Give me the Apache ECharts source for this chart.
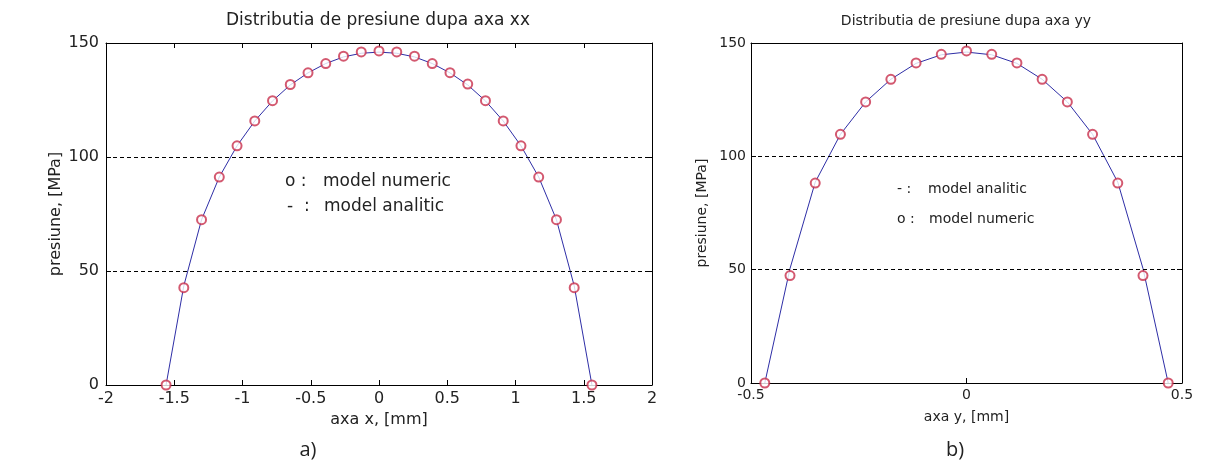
<!DOCTYPE html>
<html>
<head>
<meta charset="utf-8">
<script src="https://cdn.jsdelivr.net/npm/echarts@6/dist/echarts.min.js"></script>
<style>
  html, body { margin: 0; padding: 0; background: #fff; }
  #chart { width: 1210px; height: 464px; }
</style>
</head>
<body>
<div id="chart"></div>
<script>
// axa xx (a)
const xPosA = [-1.56, -1.43, -1.30, -1.17, -1.04, -0.91, -0.78, -0.65, -0.52, -0.39, -0.26, -0.13, 0,
               0.13, 0.26, 0.39, 0.52, 0.65, 0.78, 0.91, 1.04, 1.17, 1.30, 1.43, 1.56];
const numericA = [0, 42.7, 72.5, 91.2, 104.9, 115.8, 124.7, 131.8, 136.9, 141.0, 144.2, 146.1, 146.5,
                  146.1, 144.2, 141.0, 137.0, 132.0, 124.7, 115.8, 104.9, 91.2, 72.5, 42.7, 0];
const analyticA = [0, 43.5, 72.5, 91.2, 104.9, 115.8, 124.6, 131.6, 136.9, 141.0, 143.9, 145.5, 146.0,
                   145.5, 143.9, 141.0, 136.9, 131.6, 124.6, 115.8, 104.9, 91.2, 72.5, 43.5, 0];

// axa yy (b)
const xPosB = [-0.468, -0.4095, -0.351, -0.2925, -0.234, -0.1755, -0.117, -0.0585, 0,
               0.0585, 0.117, 0.1755, 0.234, 0.2925, 0.351, 0.4095, 0.468];
const numericB = [0, 47.4, 88.2, 109.7, 124.0, 134.0, 141.2, 145.0, 146.5,
                  145.0, 141.2, 134.0, 124.0, 109.7, 88.2, 47.4, 0];
const analyticB = [0, 50.5, 88.6, 109.7, 124.0, 134.0, 141.0, 144.8, 146.0,
                   144.8, 141.0, 134.0, 124.0, 109.7, 88.6, 50.5, 0];

const dashLevels = [50, 100];

const pair = (xs, ys) => xs.map((x, i) => [x, ys[i]]);

const FONT = 'DejaVu Sans';
const ink = '#222';
const lineBlue = '#2e2ea6';
const circleRed = '#c8304c';

function xAx(grid, min, max, interval, name, top, fs, margin, gap) {
    return {
        type: 'value', gridIndex: grid, min: min, max: max, interval: interval,
        position: top ? 'top' : 'bottom',
        name: top ? '' : name, nameLocation: 'middle', nameGap: gap,
        nameTextStyle: { color: ink, fontFamily: FONT, fontSize: fs },
        axisLine: { show: true, onZero: false, lineStyle: { color: '#000', width: 1 } },
        axisTick: { show: true, inside: true, length: 5, lineStyle: { color: '#000' } },
        axisLabel: { show: !top, color: ink, fontFamily: FONT, fontSize: fs, margin: margin },
        splitLine: { show: false }
    };
}

function yAx(grid, name, right, fs, margin) {
    return {
        type: 'value', gridIndex: grid, min: 0, max: 150, interval: 50,
        position: right ? 'right' : 'left',
        name: right ? '' : name, nameLocation: 'middle', nameGap: 42,
        nameTextStyle: { color: ink, fontFamily: FONT, fontSize: fs },
        axisLine: { show: true, onZero: false, lineStyle: { color: '#000', width: 1 } },
        axisTick: { show: true, inside: true, length: 5, lineStyle: { color: '#000' } },
        axisLabel: { show: !right, color: ink, fontFamily: FONT, fontSize: fs, margin: margin },
        splitLine: { show: false }
    };
}

function analytic(idx, data) {
    return {
        type: 'line', xAxisIndex: idx * 2, yAxisIndex: idx * 2, data: data,
        showSymbol: false, symbol: 'none', z: 2,
        lineStyle: { color: lineBlue, width: 1 },
        markLine: {
            silent: true, symbol: 'none', label: { show: false },
            lineStyle: { color: '#000', type: [4, 3], width: 1 },
            data: dashLevels.map(v => ({ yAxis: v }))
        }
    };
}

function numeric(idx, data) {
    return {
        type: 'scatter', xAxisIndex: idx * 2, yAxisIndex: idx * 2, data: data,
        symbol: 'emptyCircle', symbolSize: 9, z: 3,
        itemStyle: { color: circleRed, borderColor: circleRed, borderWidth: 1 }
    };
}

function txt(x, y, s, size, align, family) {
    return {
        type: 'text', x: x, y: y,
        style: { text: s, fill: ink, font: size + 'px "' + (family || FONT) + '"',
                 textAlign: align || 'left', textVerticalAlign: 'middle' }
    };
}

const myChart = echarts.init(document.getElementById('chart'));
const option = {
    animation: false,
    grid: [
        { left: 106, top: 43, width: 546, height: 342 },
        { left: 751, top: 43, width: 431, height: 340 }
    ],
    xAxis: [
        xAx(0, -2, 2, 0.5, 'axa x, [mm]', false, 16, 6, 21),
        xAx(0, -2, 2, 0.5, '', true, 16, 6, 21),
        xAx(1, -0.5, 0.5, 0.5, 'axa y, [mm]', false, 14, 5, 27),
        xAx(1, -0.5, 0.5, 0.5, '', true, 14, 5, 27)
    ],
    yAxis: [
        yAx(0, 'presiune, [MPa]', false, 16, 7),
        yAx(0, '', true, 16, 7),
        yAx(1, 'presiune, [MPa]', false, 14, 5),
        yAx(1, '', true, 14, 5)
    ],
    series: [
        analytic(0, pair(xPosA, analyticA)),
        numeric(0, pair(xPosA, numericA)),
        analytic(1, pair(xPosB, analyticB)),
        numeric(1, pair(xPosB, numericB))
    ],
    graphic: [
        txt(378, 21, 'Distributia de presiune dupa axa xx', 17, 'center'),
        txt(966, 21, 'Distributia de presiune dupa axa yy', 14, 'center'),
        txt(285, 182, 'o :', 17), txt(323, 182, 'model numeric', 17),
        txt(287, 207, '-  :', 17), txt(324, 207, 'model analitic', 17),
        txt(897, 189, '- :', 14), txt(928, 189, 'model analitic', 14),
        txt(897, 219, 'o :', 14), txt(929, 219, 'model numeric', 14),
        txt(308, 450, 'a)', 20, 'center', 'Open Sans'),
        txt(955, 450, 'b)', 20, 'center', 'Open Sans')
    ]
};
myChart.setOption(option);
</script>
</body>
</html>
